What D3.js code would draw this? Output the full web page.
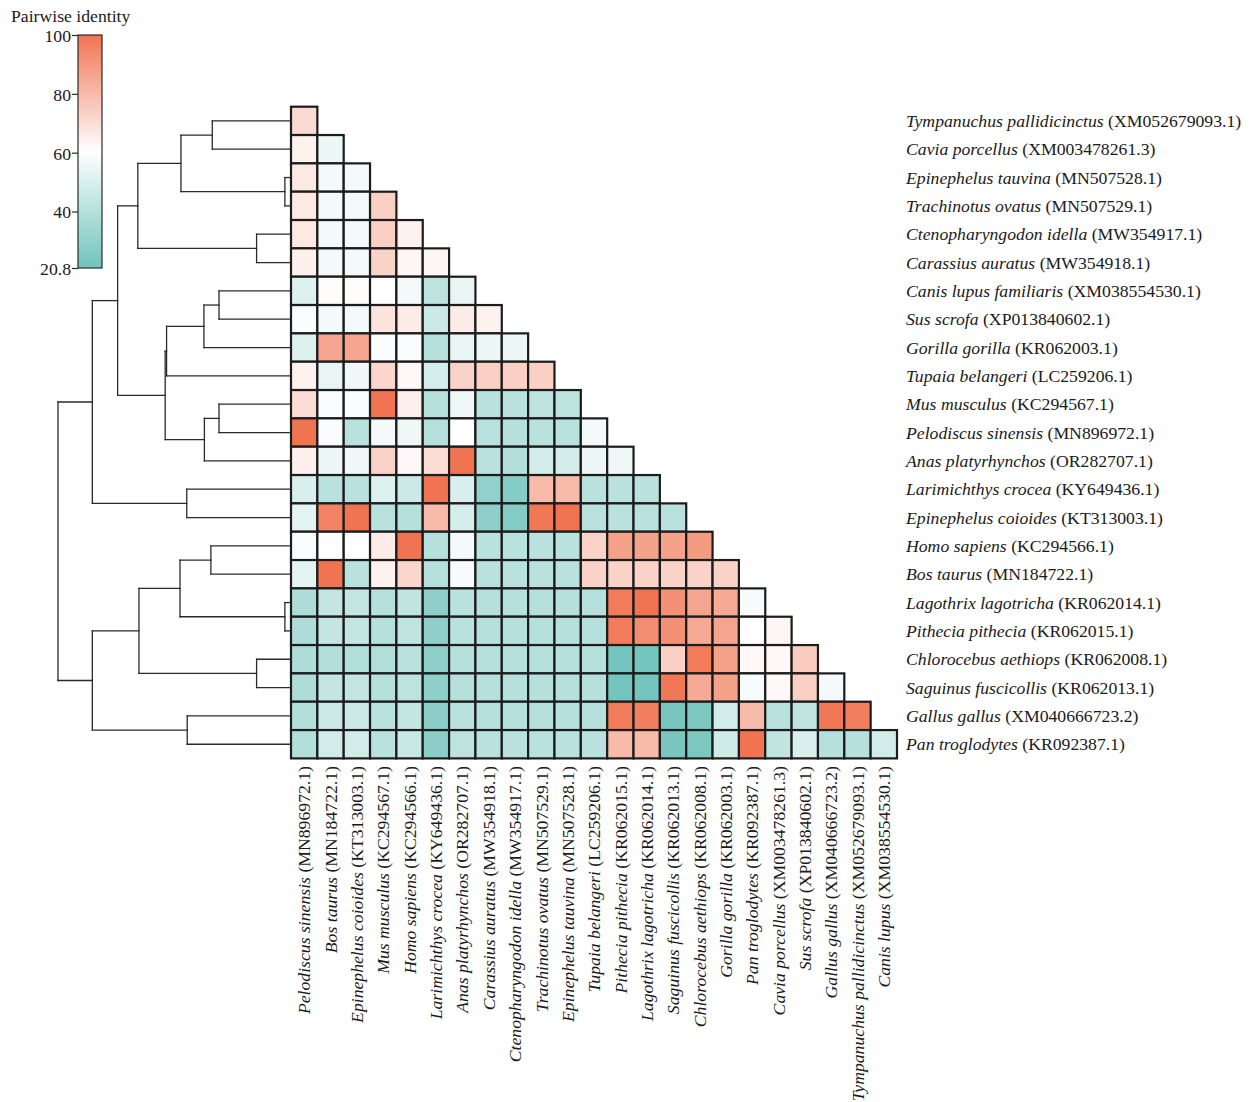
<!DOCTYPE html>
<html>

<head>
    <meta http-equiv="Content-Type" content="text/html; charset=UTF-8">
    <style>
        body { margin: 0; background: #fff; }
        svg { display: block; font-family: "Liberation Serif", "DejaVu Serif", serif; }
    </style>
</head>

<body>
    <svg width="1249" height="1102"></svg>
    <script src="https://cdn.jsdelivr.net/npm/d3@7"></script>

    <script>

        let width = 1249, height = 1102;

        // Row order (matches dendrogram leaves, top to bottom)
        let rowSpecies = ["Tympanuchus pallidicinctus", "Cavia porcellus", "Epinephelus tauvina", "Trachinotus ovatus",
            "Ctenopharyngodon idella", "Carassius auratus", "Canis lupus familiaris", "Sus scrofa", "Gorilla gorilla",
            "Tupaia belangeri", "Mus musculus", "Pelodiscus sinensis", "Anas platyrhynchos", "Larimichthys crocea",
            "Epinephelus coioides", "Homo sapiens", "Bos taurus", "Lagothrix lagotricha", "Pithecia pithecia",
            "Chlorocebus aethiops", "Saguinus fuscicollis", "Gallus gallus", "Pan troglodytes"];
        let rowAcc = ["XM052679093.1", "XM003478261.3", "MN507528.1", "MN507529.1", "MW354917.1", "MW354918.1",
            "XM038554530.1", "XP013840602.1", "KR062003.1", "LC259206.1", "KC294567.1", "MN896972.1", "OR282707.1",
            "KY649436.1", "KT313003.1", "KC294566.1", "MN184722.1", "KR062014.1", "KR062015.1", "KR062008.1",
            "KR062013.1", "XM040666723.2", "KR092387.1"];

        // Column order
        let colSpecies = ["Pelodiscus sinensis", "Bos taurus", "Epinephelus coioides", "Mus musculus", "Homo sapiens",
            "Larimichthys crocea", "Anas platyrhynchos", "Carassius auratus", "Ctenopharyngodon idella",
            "Trachinotus ovatus", "Epinephelus tauvina", "Tupaia belangeri", "Pithecia pithecia", "Lagothrix lagotricha",
            "Saguinus fuscicollis", "Chlorocebus aethiops", "Gorilla gorilla", "Pan troglodytes", "Cavia porcellus",
            "Sus scrofa", "Gallus gallus", "Tympanuchus pallidicinctus", "Canis lupus"];
        let colAcc = ["MN896972.1", "MN184722.1", "KT313003.1", "KC294567.1", "KC294566.1", "KY649436.1", "OR282707.1",
            "MW354918.1", "MW354917.1", "MN507529.1", "MN507528.1", "LC259206.1", "KR062015.1", "KR062014.1",
            "KR062013.1", "KR062008.1", "KR062003.1", "KR092387.1", "XM003478261.3", "XP013840602.1",
            "XM040666723.2", "XM052679093.1", "XM038554530.1"];

        // Pairwise identity (%), lower triangle: row i has i+1 values
        let identity = [
            [71],
            [64, 55],
            [67, 57, 57],
            [67, 57, 57, 74],
            [67, 57, 57, 74, 64],
            [65, 57, 57, 73, 63, 63],
            [51, 61, 61, 60, 57, 42, 54],
            [59, 57, 57, 68, 66, 46, 66, 64],
            [51, 86, 86, 59, 59, 40, 54, 55, 55],
            [64, 54, 56, 72, 62, 49, 73, 74, 74, 74],
            [70, 59, 59, 100, 65, 40, 56, 41, 41, 42, 42],
            [100, 59, 41, 57, 56, 40, 60.5, 41, 40, 41, 41, 57],
            [65, 55, 56, 73, 62, 70, 100, 41, 39, 48, 48, 55, 56],
            [50, 41, 41, 51, 46, 100, 50, 30, 27, 80, 80, 41, 41, 41],
            [53, 96, 100, 41, 40, 80, 49, 29, 26, 99, 100, 41, 41, 41, 41],
            [59, 60, 60, 66, 100, 40, 57, 41, 41, 41, 41, 73, 87, 87, 87, 89],
            [53, 100, 41, 64, 72, 40, 58, 41, 41, 41, 41, 73, 73, 73, 73, 73, 73],
            [38, 44, 44, 40, 43, 29, 41, 40, 40, 40, 40, 40, 98, 100, 92, 86, 85, 58],
            [38, 44, 44, 40, 43, 29, 41, 40, 40, 40, 40, 40, 98, 93, 92, 85, 86, 60, 63],
            [38, 39, 39, 39, 41, 29, 40, 40, 40, 40, 40, 40, 22, 22, 74, 98, 87, 62, 62, 75],
            [38, 44, 44, 40, 42, 29, 40, 40, 40, 40, 40, 40, 22, 22, 99, 85, 87, 58, 62, 74, 57],
            [39, 46, 46, 41, 44, 28, 41, 40, 40, 40, 40, 40, 98, 97, 23, 24, 48, 80, 41, 43, 99, 97],
            [39, 48, 48, 41, 45, 28, 42, 41, 41, 41, 41, 41, 80, 80, 23, 24, 47, 100, 43, 50, 40, 40, 48]
        ];

        // Dendrogram merges: [childA, childB, height]; leaves 0-22, merge k gets id 23+k
        let merges = [
            [0, 1, 0.335], [2, 3, 0.022], [23, 24, 0.470], [4, 5, 0.144], [25, 26, 0.656],
            [6, 7, 0.306], [28, 8, 0.371], [29, 9, 0.532], [10, 11, 0.306], [31, 12, 0.369],
            [30, 32, 0.538], [27, 33, 0.743], [13, 14, 0.445], [34, 35, 0.852], [15, 16, 0.341],
            [17, 18, 0.022], [37, 38, 0.474], [19, 20, 0.144], [39, 40, 0.651], [21, 22, 0.443],
            [41, 42, 0.852], [36, 43, 1.0]
        ];

        let legendTicks = [20.8, 40, 60, 80, 100];

        let svg = d3.select("svg")
            .attr("viewBox", "0 0 " + width + " " + height);

        let x = d3.scaleBand().domain(d3.range(colSpecies.length)).range([291, 897]);
        let y = d3.scaleBand().domain(d3.range(rowSpecies.length)).range([106.7, 758.4]);

        let color = d3.scaleLinear()
            .domain([20.8, 60.4, 100])
            .range(["#70c3bb", "#ffffff", "#f07452"]);

        // Heatmap cells
        let cells = [];
        identity.forEach((row, i) => row.forEach((v, j) => cells.push({ r: i, c: j, v: v })));

        svg.append("g")
            .attr("id", "cells")
            .selectAll("rect")
            .data(cells)
            .enter()
            .append("rect")
            .attr("x", d => x(d.c))
            .attr("y", d => y(d.r))
            .attr("width", x.bandwidth())
            .attr("height", y.bandwidth())
            .attr("fill", d => color(d.v))
            .attr("stroke", "#1c1c1c")
            .attr("stroke-width", 2.2);

        // Row labels
        let rowLab = svg.append("g")
            .attr("id", "rowlabels")
            .selectAll("text")
            .data(rowSpecies)
            .enter()
            .append("text")
            .attr("x", 906)
            .attr("y", (d, i) => y(i) + y.bandwidth() / 2)
            .attr("dy", "0.35em")
            .style("font-size", "17.7px")
            .attr("fill", "#1a1a1a");
        rowLab.append("tspan").style("font-style", "italic").text(d => d);
        rowLab.append("tspan").text((d, i) => " (" + rowAcc[i] + ")");

        // Column labels
        let colLab = svg.append("g")
            .attr("id", "collabels")
            .selectAll("text")
            .data(colSpecies)
            .enter()
            .append("text")
            .attr("transform", (d, i) => "translate(" + (x(i) + x.bandwidth() / 2) + ",766) rotate(-90)")
            .attr("text-anchor", "end")
            .attr("dy", "0.35em")
            .style("font-size", "17.7px")
            .attr("fill", "#1a1a1a");
        colLab.append("tspan").style("font-style", "italic").text(d => d);
        colLab.append("tspan").text((d, i) => " (" + colAcc[i] + ")");

        // Dendrogram
        let dx = d3.scaleLinear().domain([0, 1]).range([290, 58]);
        let nodes = rowSpecies.map((d, i) => ({ h: 0, y: y(i) + y.bandwidth() / 2 }));
        let segs = [];
        merges.forEach(m => {
            let a = nodes[m[0]], b = nodes[m[1]];
            let xm = dx(m[2]);
            segs.push([xm, a.y, xm, b.y]);
            segs.push([xm, a.y, dx(a.h), a.y]);
            segs.push([xm, b.y, dx(b.h), b.y]);
            nodes.push({ h: m[2], y: (a.y + b.y) / 2 });
        });

        svg.append("g")
            .attr("id", "dendro")
            .selectAll("line")
            .data(segs)
            .enter()
            .append("line")
            .attr("x1", d => d[0])
            .attr("y1", d => d[1])
            .attr("x2", d => d[2])
            .attr("y2", d => d[3])
            .attr("stroke", "#2a2a2a")
            .attr("stroke-width", 1.3)
            .attr("stroke-linecap", "square");

        // Colour legend
        let ly = d3.scaleLinear().domain([20.8, 100]).range([268, 35]);
        let grad = svg.append("defs")
            .append("linearGradient")
            .attr("id", "grad")
            .attr("x1", "0").attr("y1", "1").attr("x2", "0").attr("y2", "0");
        d3.range(0, 1.0001, 0.05).forEach(t => {
            grad.append("stop")
                .attr("offset", t)
                .attr("stop-color", color(20.8 + t * (100 - 20.8)));
        });

        svg.append("rect")
            .attr("x", 78)
            .attr("y", ly(100))
            .attr("width", 24)
            .attr("height", ly(20.8) - ly(100))
            .attr("fill", "url(#grad)")
            .attr("stroke", "#2a2a2a")
            .attr("stroke-width", 1.2);

        let lax = svg.append("g")
            .attr("transform", "translate(78,0)")
            .call(d3.axisLeft(ly).tickValues(legendTicks).tickSize(6).tickPadding(1).tickFormat(d => d));
        lax.select(".domain").remove();
        lax.selectAll("line").attr("stroke", "#2a2a2a").attr("stroke-width", 1.2);
        lax.selectAll("text")
            .style("font-family", "\"Liberation Serif\", serif")
            .style("font-size", "17.7px")
            .attr("dy", "0.36em")
            .attr("fill", "#1a1a1a");

        svg.append("text")
            .attr("x", 11)
            .attr("y", 22)
            .style("font-size", "17.7px")
            .attr("fill", "#1a1a1a")
            .text("Pairwise identity");

    </script>

</body>

</html>
